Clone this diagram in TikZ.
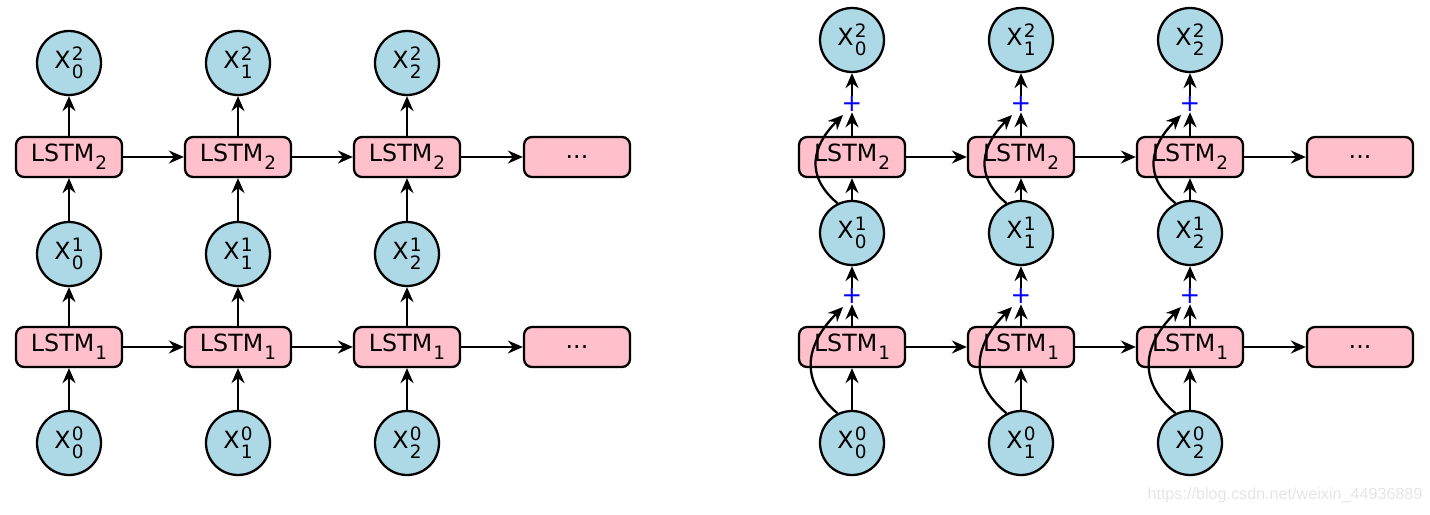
\documentclass[tikz,border=0pt]{standalone}
\usepackage{fontspec}
\setmainfont{DejaVu Sans}
\newfontfamily\markfont{Liberation Sans}
\usetikzlibrary{arrows.meta}
\definecolor{statblue}{RGB}{173,216,230}
\definecolor{cellpink}{RGB}{255,192,203}
\newcommand{\scr}{\fontsize{10.5pt}{11pt}\selectfont}
\newcommand{\xlab}[2]{X\kern0.6pt\rlap{\raisebox{4.6pt}{\scr #1}}\raisebox{-5.6pt}{\scr #2}}
\newcommand{\lstm}[1]{LSTM\kern0.6pt\raisebox{-4.4pt}{\scr #1}}

\begin{document}
\begin{tikzpicture}[
    x=0.02cm,y=-0.02cm,
    font=\fontsize{13.5pt}{16pt}\selectfont,
    state/.style={circle,draw,fill=statblue,minimum size=1.28cm,inner sep=0pt,line width=1.3pt},
    cell/.style={rectangle,rounded corners=0.16cm,draw,fill=cellpink,minimum width=2.12cm,minimum height=0.8cm,inner sep=0pt,line width=1.3pt},
    flow/.style={-{Stealth[length=0.3cm,width=0.26cm,inset=0.1cm]},line width=1.3pt},
    plus/.style={text=blue,inner sep=0pt,minimum size=0.32cm,font=\fontsize{14pt}{16pt}\selectfont}
]
    \useasboundingbox (0,0) rectangle (1430,514);

    % left: stacked LSTM
    \foreach \i in {0,1,2}{
        \pgfmathsetmacro{\x}{69+169*\i}
        \node[state] (l-top-\i) at (\x,63) {\xlab{2}{\i}};
        \node[cell] (l-b2-\i) at (\x,157) {\lstm{2}};
        \node[state] (l-mid-\i) at (\x,254) {\xlab{1}{\i}};
        \node[cell] (l-b1-\i) at (\x,347) {\lstm{1}};
        \node[state] (l-in-\i) at (\x,443) {\xlab{0}{\i}};
        \draw[flow] (l-in-\i) -- (l-b1-\i);
        \draw[flow] (l-b1-\i) -- (l-mid-\i);
        \draw[flow] (l-mid-\i) -- (l-b2-\i);
        \draw[flow] (l-b2-\i) -- (l-top-\i);
    }
    \node[cell] (l-b2-3) at (577,157) {...};
    \node[cell] (l-b1-3) at (577,347) {...};

    % right: stacked LSTM with residual connections
    \foreach \i in {0,1,2}{
        \pgfmathsetmacro{\x}{852+169*\i}
        \node[state] (r-top-\i) at (\x,40) {\xlab{2}{\i}};
        \node[plus] (r-p2-\i) at (\x,104) {+};
        \node[cell] (r-b2-\i) at (\x,157) {\lstm{2}};
        \node[state] (r-mid-\i) at (\x,233) {\xlab{1}{\i}};
        \node[plus] (r-p1-\i) at (\x,296) {+};
        \node[cell] (r-b1-\i) at (\x,347) {\lstm{1}};
        \node[state] (r-in-\i) at (\x,443) {\xlab{0}{\i}};
        \coordinate (r-t2-\i) at (\x-9,115);
        \coordinate (r-t1-\i) at (\x-9,307);
        \draw[flow] (r-in-\i) -- (r-b1-\i);
        \draw[flow] (r-b1-\i) -- (r-p1-\i);
        \draw[flow] (r-p1-\i) -- (r-mid-\i);
        \draw[flow] (r-mid-\i) -- (r-b2-\i);
        \draw[flow] (r-b2-\i) -- (r-p2-\i);
        \draw[flow] (r-p2-\i) -- (r-top-\i);
        \draw[flow] (r-in-\i.116) to[out=140,in=225,looseness=1.25] (r-t1-\i);
        \draw[flow] (r-mid-\i.116) to[out=140,in=225,looseness=1.25] (r-t2-\i);
    }
    \node[cell] (r-b2-3) at (1360,157) {...};
    \node[cell] (r-b1-3) at (1360,347) {...};

    % recurrent links
    \foreach \i [count=\j] in {0,1,2}{
        \draw[flow] (l-b1-\i) -- (l-b1-\j);
        \draw[flow] (l-b2-\i) -- (l-b2-\j);
        \draw[flow] (r-b1-\i) -- (r-b1-\j);
        \draw[flow] (r-b2-\i) -- (r-b2-\j);
    }

    \node[text=black!10,font=\markfont\fontsize{9.2pt}{11pt}\selectfont] (mark) at (1285,495) {https://blog.csdn.net/weixin\_44936889};
\end{tikzpicture}
\end{document}
